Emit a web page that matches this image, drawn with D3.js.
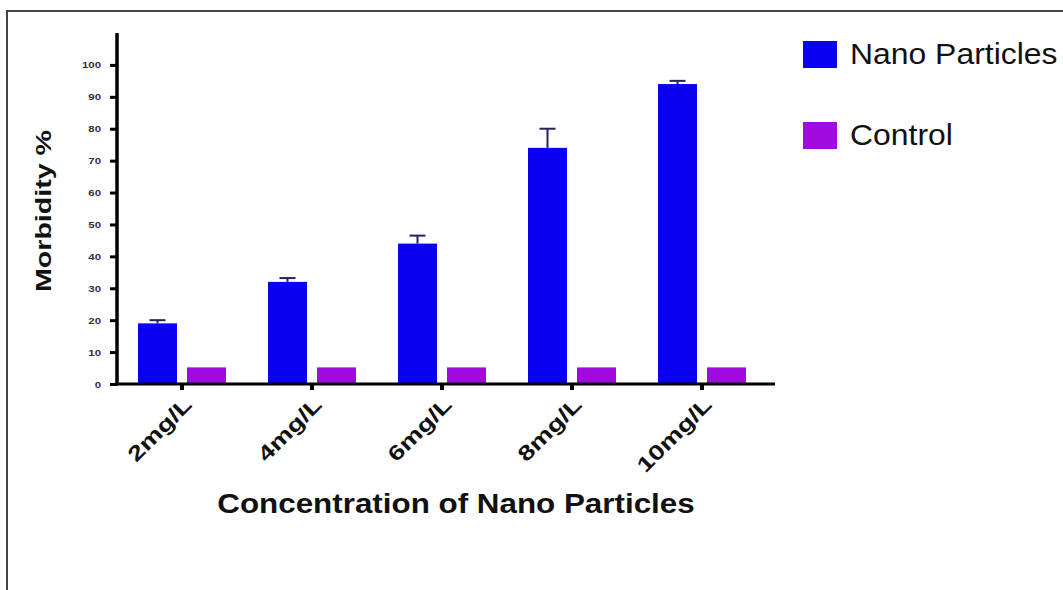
<!DOCTYPE html>
<html>
<head>
<meta charset="utf-8">
<script src="https://cdn.jsdelivr.net/npm/d3@7"></script>
<style>
  html, body { margin: 0; padding: 0; background: #fff; }
  svg { display: block; font-family: "Liberation Sans", Arial, sans-serif; }
</style>
</head>
<body>
<script>
// Data
const categories = ["2mg/L", "4mg/L", "6mg/L", "8mg/L", "10mg/L"];
const nanoValues = [19, 32, 44, 74, 94];
const nanoErrors = [1, 1.2, 2.5, 6, 1];
const controlValues = [5.2, 5.2, 5.2, 5.2, 5.2];
const seriesNames = ["Nano Particles", "Control"];
const yTicks = [0, 10, 20, 30, 40, 50, 60, 70, 80, 90, 100];

const width = 1063, height = 590;
const blue = "#0a00f2", purple = "#a00ade";

// the figure's lettering is a wide face; stretch Liberation Sans to fit
function stretch(sel, k) {
  sel.each(function() {
    const len = this.getComputedTextLength();
    d3.select(this)
      .attr("textLength", len * k)
      .attr("lengthAdjust", "spacingAndGlyphs");
  });
}

const svg = d3.select("body").append("svg")
  .attr("width", width)
  .attr("height", height);

// page frame (top and left border of the scanned figure)
svg.append("path")
  .attr("d", `M${width},11H7V${height}`)
  .attr("fill", "none")
  .attr("stroke", "#444")
  .attr("stroke-width", 2);

const x = d3.scaleBand().domain(categories).range([117, 767]);
const y = d3.scaleLinear().domain([0, 110]).range([384, 33]);

// bars
const g = svg.append("g");
const barW = 39, gap = 5;

g.selectAll("rect.nano")
  .data(nanoValues)
  .join("rect")
  .attr("class", "nano")
  .attr("x", (d, i) => x(categories[i]) + x.bandwidth() / 2 - gap - barW)
  .attr("y", d => y(d))
  .attr("width", barW)
  .attr("height", d => y(0) - y(d))
  .attr("fill", blue);

g.selectAll("rect.control")
  .data(controlValues)
  .join("rect")
  .attr("class", "control")
  .attr("x", (d, i) => x(categories[i]) + x.bandwidth() / 2 + gap)
  .attr("y", d => y(d))
  .attr("width", barW)
  .attr("height", d => y(0) - y(d))
  .attr("fill", purple);

// error bars (upper only)
const err = g.selectAll("g.err")
  .data(nanoValues)
  .join("g")
  .attr("class", "err")
  .attr("stroke", "#23235e")
  .attr("stroke-width", 2);
const errX = (i) => x(categories[i]) + x.bandwidth() / 2 - gap - barW / 2;
err.append("line")
  .attr("x1", (d, i) => errX(i)).attr("x2", (d, i) => errX(i))
  .attr("y1", d => y(d)).attr("y2", (d, i) => y(d + nanoErrors[i]));
err.append("line")
  .attr("x1", (d, i) => errX(i) - 8).attr("x2", (d, i) => errX(i) + 8)
  .attr("y1", (d, i) => y(d + nanoErrors[i])).attr("y2", (d, i) => y(d + nanoErrors[i]));

// y axis
const yAxis = svg.append("g")
  .attr("transform", "translate(117,0)")
  .call(d3.axisLeft(y).tickValues(yTicks).tickSize(7).tickPadding(9));
yAxis.select(".domain").remove();
yAxis.selectAll(".tick line").attr("stroke", "#000").attr("stroke-width", 3);
yAxis.selectAll(".tick text")
  .attr("fill", "#333")
  .attr("font-size", 9.5)
  .attr("font-weight", "bold")
  .attr("font-family", "'Liberation Sans', Arial, sans-serif")
  .call(stretch, 1.2);
svg.append("line")
  .attr("x1", 117).attr("x2", 117)
  .attr("y1", y(110)).attr("y2", y(0) + 1.5)
  .attr("stroke", "#000").attr("stroke-width", 3.5);

// x axis
const xAxis = svg.append("g")
  .attr("transform", "translate(0,384)")
  .call(d3.axisBottom(x).tickSize(6).tickPadding(4));
xAxis.select(".domain").remove();
xAxis.selectAll(".tick line").attr("stroke", "#000").attr("stroke-width", 4);
xAxis.selectAll(".tick text")
  .attr("fill", "#111")
  .attr("font-size", 21)
  .attr("font-weight", "bold")
  .attr("font-family", "'Liberation Sans', Arial, sans-serif")
  .attr("text-anchor", "end")
  .attr("dy", null)
  .attr("transform", "translate(4,15) rotate(-45)")
  .call(stretch, 1.3);
svg.append("line")
  .attr("x1", 115).attr("x2", 775)
  .attr("y1", 384).attr("y2", 384)
  .attr("stroke", "#000").attr("stroke-width", 3);

// axis titles
svg.append("text")
  .attr("transform", "translate(51,211) rotate(-90)")
  .attr("text-anchor", "middle")
  .attr("font-size", 22)
  .attr("font-weight", "bold")
  .attr("fill", "#111")
  .text("Morbidity %")
  .call(stretch, 1.3);

svg.append("text")
  .attr("x", 456)
  .attr("y", 513)
  .attr("text-anchor", "middle")
  .attr("font-size", 28)
  .attr("font-weight", "bold")
  .attr("fill", "#111")
  .text("Concentration of Nano Particles")
  .call(stretch, 1.12);

// legend
const legend = svg.append("g").attr("transform", "translate(803,41)");
const lg = legend.selectAll("g")
  .data(seriesNames)
  .join("g")
  .attr("transform", (d, i) => `translate(0,${i * 81})`);
lg.append("rect")
  .attr("width", 34)
  .attr("height", 27)
  .attr("fill", (d, i) => i === 0 ? blue : purple);
lg.append("text")
  .attr("x", 47)
  .attr("y", 23)
  .attr("font-size", 29)
  .attr("fill", "#111")
  .text(d => d)
  .call(stretch, 1.1);
</script>
</body>
</html>
